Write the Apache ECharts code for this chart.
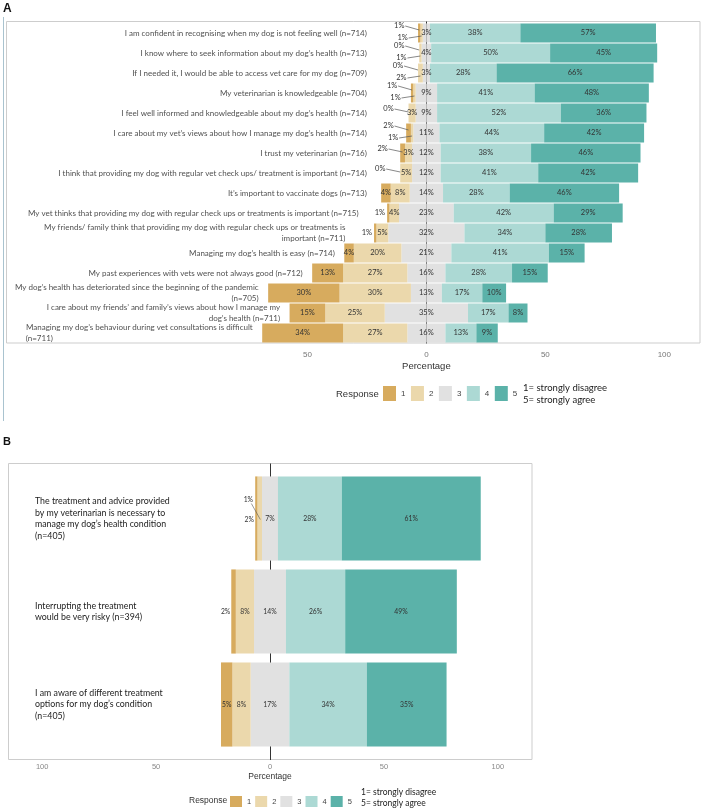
<!DOCTYPE html>
<html><head><meta charset="utf-8">
<script src="https://cdn.jsdelivr.net/npm/echarts@6/dist/echarts.min.js"></script>
<style>html,body{margin:0;padding:0;background:#fff}#c{width:708px;height:811px}</style>
</head><body><div id="c"></div>
<script>
// ---------- Panel A data ----------
const catsA = [
  'I am confident in recognising when my dog is not feeling well (n=714)',
  'I know where to seek information about my dog\u2019s health (n=713)',
  'If I needed it, I would be able to access vet care for my dog (n=709)',
  'My veterinarian is knowledgeable (n=704)',
  'I feel well informed and knowledgeable about my dog\u2019s health (n=714)',
  'I care about my vet\u2019s views about how I manage my dog\u2019s health (n=714)',
  'I trust my veterinarian (n=716)',
  'I think that providing my dog with regular vet check ups/ treatment is important (n=714)',
  'It\u2019s important to vaccinate dogs (n=713)',
  'My vet thinks that providing my dog with regular check ups or treatments is important (n=715)',
  'My friends/ family think that providing my dog with regular check ups or treatments is\nimportant (n=711)',
  'Managing my dog\u2019s health is easy (n=714)',
  'My past experiences with vets were not always good (n=712)',
  'My dog\u2019s health has deteriorated since the beginning of the pandemic\n(n=705)',
  'I care about my friends\u2019 and family\u2019s views about how I manage my\ndog\u2019s health (n=711)',
  'Managing my dog\u2019s behaviour during vet consultations is difficult\n(n=711)'
];
const a1 = [1, 0, 0, 1, 0, 2, 2, 0, 4, 1, 1, 4, 13, 30, 15, 34];
const a2 = [1, 1, 2, 1, 3, 1, 3, 5, 8, 4, 5, 20, 27, 30, 25, 27];
const a3 = [3, 4, 3, 9, 9, 11, 12, 12, 14, 23, 32, 21, 16, 13, 35, 16];
const a4 = [38, 50, 28, 41, 52, 44, 38, 41, 28, 42, 34, 41, 28, 17, 17, 13];
const a5 = [57, 45, 66, 48, 36, 42, 46, 42, 46, 29, 28, 15, 15, 10, 8, 9];

// ---------- Panel B data ----------
const catsB = [
  'The treatment and advice provided\nby my veterinarian is necessary to\nmanage my dog\u2019s health condition\n(n=405)',
  'Interrupting the treatment\nwould be very risky (n=394)',
  'I am aware of different treatment\noptions for my dog\u2019s condition\n(n=405)'
];
const b1 = [1, 2, 5];
const b2 = [2, 8, 8];
const b3 = [7, 14, 17];
const b4 = [28, 26, 34];
const b5 = [61, 49, 35];

const responses = ['1', '2', '3', '4', '5'];
const tickLabelsA = [-50, 0, 50, 100];
const tickLabelsB = [-100, -50, 0, 50, 100];

// ---------- styles ----------
const COL = ['#d7ab5e', '#ebd8ac', '#e1e1e1', '#acd9d4', '#5bb2a9'];
const FONT = 'Lato, "Open Sans", sans-serif';
const AX = '"Liberation Sans", Arial, sans-serif';
const LEFT_WRAP_ROWS = [15]; // rows whose 2nd line is left-aligned in the original layout

const chart = echarts.init(document.getElementById('c'));

function bars(g, v1, v2, v3, v4, v5, fs, gap) {
  const lab = { show: true, fontSize: fs, fontFamily: FONT, color: '#333' };
  const base = { type: 'bar', stack: 'p' + g, xAxisIndex: g, yAxisIndex: g, barCategoryGap: gap, z: 2,
    emphasis: { disabled: true }, animation: false };
  const ext = i => v1[i] + v2[i] + v3[i] / 2;
  const moved1 = i => g === 0 ? ext(i) < 12 : (v1[i] < 3 && v2[i] < 3);
  const moved2 = i => g === 0 ? (ext(i) < 12 && v2[i] < 3) : (v1[i] < 3 && v2[i] < 3);
  return [
    Object.assign({}, base, { name: '3', itemStyle: { color: COL[2] }, data: v3.map(v => -v / 2), label: { show: false } }),
    Object.assign({}, base, { name: '2', itemStyle: { color: COL[1] },
      data: v2.map((v, i) => ({ value: -v, label: moved2(i) ? { show: false } : Object.assign({}, lab, { position: 'inside', formatter: v + '%' }) })) }),
    Object.assign({}, base, { name: '1', itemStyle: { color: COL[0] },
      data: v1.map((v, i) => ({ value: -v, label: moved1(i) ? { show: false } :
        (v < 3 ? Object.assign({}, lab, { position: 'left', distance: g === 0 ? 2 : 1, formatter: v + '%' })
               : Object.assign({}, lab, { position: 'inside', formatter: v + '%' })) })) }),
    Object.assign({}, base, { name: '3', itemStyle: { color: COL[2] }, data: v3.map(v => v / 2),
      label: Object.assign({}, lab, { position: [0, '50%'], align: 'center', verticalAlign: 'middle', formatter: p => v3[p.dataIndex] + '%' }) }),
    Object.assign({}, base, { name: '4', itemStyle: { color: COL[3] }, data: v4,
      label: Object.assign({}, lab, { position: 'inside', formatter: '{c}%' }) }),
    Object.assign({}, base, { name: '5', itemStyle: { color: COL[4] }, data: v5,
      label: Object.assign({}, lab, { position: 'inside', formatter: '{c}%' }) })
  ];
}

// label anchors for panel A row names (right end of each text), from the bars' left ends
const anchorA = catsA.map((c, i) => {
  const start = -(a1[i] + a2[i] + a3[i] / 2);
  const outside = (a1[i] + a2[i] + a3[i] / 2 >= 12 && a1[i] < 3) ? 8 : 0;
  return Math.min(start - 4 - outside, -25);
});

// text measuring for the left-aligned wrapped line
const mctx = document.createElement('canvas').getContext('2d');
mctx.font = '8px Lato';
function rowLabel(i) {
  const t = catsA[i];
  if (LEFT_WRAP_ROWS.indexOf(i) < 0 || t.indexOf('\n') < 0) return t;
  const parts = t.split('\n');
  const w = Math.ceil(mctx.measureText(parts[0]).width);
  return parts[0] + '\n{l|' + parts[1] + '}';
}
function rowRich() {
  const r = {};
  LEFT_WRAP_ROWS.forEach(i => {
    const parts = catsA[i].split('\n');
    r.l = { width: Math.ceil(mctx.measureText(parts[0]).width), align: 'left', fontSize: 8, lineHeight: 11, fontFamily: FONT, color: '#222' };
  });
  return r;
}

const legendBase = { data: responses, orient: 'horizontal', icon: 'rect', selectedMode: false, padding: 0 };
const zeroLine = { show: true, onZero: true, lineStyle: { color: '#333', width: 1 } };

const option = {
  animation: false,
  backgroundColor: '#fff',
  grid: [
    { left: 10, right: 8, top: 23, bottom: 468, containLabel: false },
    { left: 8, right: 176, top: 472, bottom: 60, containLabel: false }
  ],
  xAxis: [
    { gridIndex: 0, type: 'value', min: -175, max: 115, interval: 25,
      axisLine: { show: false }, axisTick: { show: false }, splitLine: { show: false },
      axisLabel: { margin: 8, fontSize: 8, color: '#777', fontFamily: AX,
        formatter: v => tickLabelsA.indexOf(v) >= 0 ? String(Math.abs(v)) : '' } },
    { gridIndex: 1, type: 'value', min: -115, max: 115, interval: 5,
      axisLine: { show: false }, axisTick: { show: false }, splitLine: { show: false },
      axisLabel: { margin: 12, fontSize: 7.5, color: '#888', fontFamily: AX,
        formatter: v => tickLabelsB.indexOf(v) >= 0 ? String(Math.abs(v)) : '' } }
  ],
  yAxis: [
    { gridIndex: 0, type: 'category', data: catsA, inverse: true, position: 'left',
      axisLine: zeroLine, axisTick: { show: false }, axisLabel: { show: false }, splitLine: { show: false } },
    { gridIndex: 1, type: 'category', data: catsB, inverse: true, position: 'left',
      axisLine: zeroLine, axisTick: { show: false }, axisLabel: { show: false }, splitLine: { show: false } },
    { gridIndex: 1, type: 'category', data: catsB, inverse: true, position: 'left',
      axisLine: { show: false, onZero: false }, axisTick: { show: false }, splitLine: { show: false },
      axisLabel: { inside: true, margin: 27, fontSize: 8.8, lineHeight: 11.5, fontFamily: FONT, color: '#222', align: 'left' } }
  ],
  legend: [
    Object.assign({}, legendBase, { left: 383, top: 386, itemWidth: 13, itemHeight: 15, itemGap: 5.5,
      textStyle: { fontSize: 8, color: '#444', fontFamily: AX } }),
    Object.assign({}, legendBase, { left: 230, top: 796, itemWidth: 12, itemHeight: 11, itemGap: 4,
      textStyle: { fontSize: 7.5, color: '#444', fontFamily: AX } })
  ],
  series: [
    ...bars(0, a1, a2, a3, a4, a5, 7.5, '5%'),
    ...bars(1, b1, b2, b3, b4, b5, 6.8, '9.5%'),
    { type: 'scatter', name: 'rowlabels', xAxisIndex: 0, yAxisIndex: 0, symbolSize: 0, silent: true, z: 5,
      data: anchorA.map((x, i) => [x, i]),
      label: { show: true, position: 'left', distance: 0, align: 'right', verticalAlign: 'middle',
        formatter: p => rowLabel(p.dataIndex), rich: rowRich(),
        fontSize: 8, lineHeight: 11, fontFamily: FONT, color: '#222' } }
  ]
};
chart.setOption(option);

// ---------- overlays computed through the chart's own scales ----------
const P = (g, x, i) => chart.convertToPixel({ gridIndex: g }, [x, i]);
const txt = (x, y, t, fs, extra) => Object.assign({ type: 'text', z: 10, x: x, y: y,
  style: Object.assign({ text: t, fontSize: fs, fontFamily: FONT, fill: '#333', align: 'center', verticalAlign: 'middle',
    textAlign: 'center', textVerticalAlign: 'middle' }, extra || {}) });
const seg = (x1, y1, x2, y2, c, w, z) => ({ type: 'line', z: z === undefined ? 10 : z, silent: true,
  shape: { x1: x1, y1: y1, x2: x2, y2: y2 }, style: { stroke: c, lineWidth: w } });

const G = [];
// frames
G.push(seg(3.5, 17, 3.5, 421, '#a9c3cf', 1, 0));
G.push({ type: 'rect', z: 0, silent: true, shape: { x: 6.5, y: 21.5, width: 693.5, height: 321.5 }, style: { fill: 'none', stroke: '#cdcdcd', lineWidth: 1 } });
G.push({ type: 'rect', z: 0, silent: true, shape: { x: 8.5, y: 463.5, width: 523.5, height: 296 }, style: { fill: 'none', stroke: '#cdcdcd', lineWidth: 1 } });
// zero line extensions beyond the category bands (outside the bars)
const x0A = P(0, 0, 0)[0], x0B = P(1, 0, 0)[0];
const xa = Math.round(x0A) + 0.5, xb = Math.round(x0B) + 0.5;
G.push(seg(xa, 21.5, xa, 23, '#333', 1, 1));
G.push(seg(xb, 463.5, xb, 472, '#333', 1, 1));
G.push(seg(xb, 751, xb, 760, '#333', 1, 1));
// axis titles
G.push(txt(x0A, 366, 'Percentage', 9.5, { fontFamily: AX, fill: '#333' }));
G.push(txt(x0B, 777, 'Percentage', 8.5, { fontFamily: AX, fill: '#333' }));
// panel letters
G.push(txt(3, 3, 'A', 12, { fontFamily: AX, fontWeight: 'bold', fill: '#111', align: 'left', textAlign: 'left', verticalAlign: 'top', textVerticalAlign: 'top' }));
G.push(txt(3, 436, 'B', 11, { fontFamily: AX, fontWeight: 'bold', fill: '#111', align: 'left', textAlign: 'left', verticalAlign: 'top', textVerticalAlign: 'top' }));
// legend captions
G.push(txt(336, 394, 'Response', 9.5, { fontFamily: AX, fill: '#333', align: 'left', textAlign: 'left' }));
G.push(txt(523, 394, '1= strongly disagree\n5= strongly agree', 9.5, { fill: '#222', align: 'left', textAlign: 'left', lineHeight: 12 }));
G.push(txt(189, 801, 'Response', 8.5, { fontFamily: AX, fill: '#333', align: 'left', textAlign: 'left' }));
G.push(txt(361, 797.5, '1= strongly disagree\n5= strongly agree', 8.5, { fill: '#222', align: 'left', textAlign: 'left', lineHeight: 11 }));

// small segment labels with leader lines, panel A
a1.forEach((v, i) => {
  const ext = a1[i] + a2[i] + a3[i] / 2;
  if (ext >= 12) return;
  const both = a2[i] < 3;
  const t1 = P(0, -(ext - a1[i] / 2), i);
  const lx = t1[0] - 20, ly = t1[1] + (both ? -7 : -4);
  G.push(txt(lx, ly, a1[i] + '%', 7.5));
  G.push(seg(lx + 6, ly, t1[0], t1[1] + (both ? -3 : -1), '#555', 0.7));
  if (both) {
    const t2 = P(0, -(a3[i] / 2 + a2[i] / 2), i);
    const lx2 = t2[0] - 19, ly2 = t2[1] + 5;
    G.push(txt(lx2, ly2, a2[i] + '%', 7.5));
    G.push(seg(lx2 + 6, ly2, t2[0], t2[1] + 3, '#555', 0.7));
  }
});
// panel B
b1.forEach((v, i) => {
  if (!(b1[i] < 3 && b2[i] < 3)) return;
  const ext = b1[i] + b2[i] + b3[i] / 2;
  const t1 = P(1, -(ext - b1[i] / 2), i);
  const lx = t1[0] - 8, ly = t1[1] - 19;
  G.push(txt(lx, ly, b1[i] + '%', 6.8));
  G.push(seg(lx + 3, ly + 4, t1[0] + 4, t1[1] + 1, '#555', 0.6));
  const left = P(1, -ext, i);
  G.push(txt(left[0] - 6, t1[1] + 1, b2[i] + '%', 6.8));
});

chart.setOption({ graphic: G });
</script></body></html>
